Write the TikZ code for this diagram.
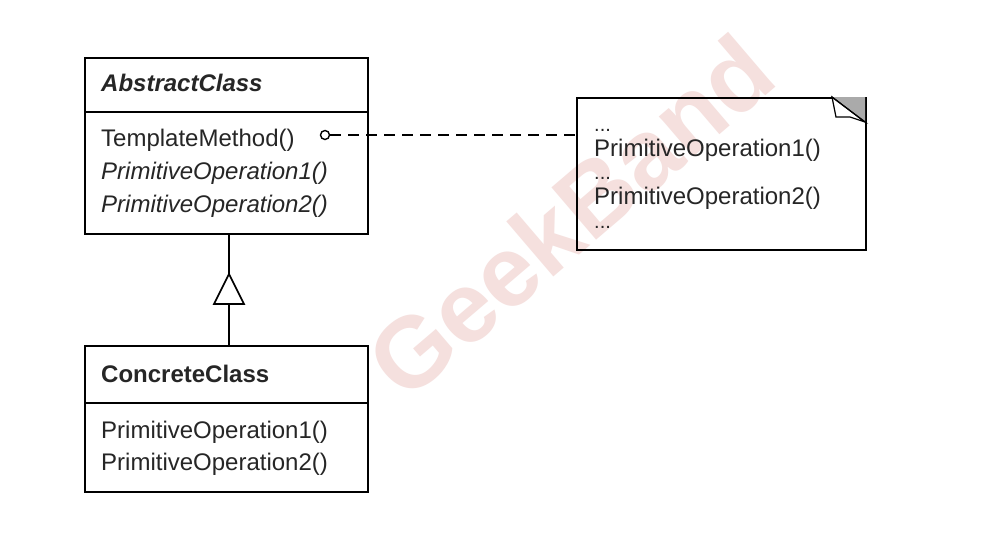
\documentclass[tikz,border=0pt]{standalone}
\usepackage{fontspec}
\setmainfont{Liberation Sans}
\definecolor{wm}{RGB}{245,224,222}
\definecolor{foldgray}{RGB}{170,170,170}
\begin{document}
\begin{tikzpicture}[x=1pt,y=-1pt,
  box/.style={draw=black,line width=1.6pt,rectangle,inner sep=0pt,anchor=north west},
  txt/.style={inner sep=0pt,anchor=base west,font=\fontsize{24}{24}\selectfont,text=black!85,text height=17pt,text depth=2pt},
  dots/.style={inner sep=0pt,anchor=base west,font=\fontsize{20}{20}\selectfont,text=black!85,text height=3pt,text depth=0pt},
  conn/.style={line width=1.6pt,draw=black}]
\useasboundingbox (0,0) rectangle (987,542);
\fill[white] (0,0) rectangle (987,542);
% watermark
\node[inner sep=0pt,rotate=40.5,text=wm,font=\fontsize{100}{100}\selectfont\bfseries] (wmark) at (570,216) {GeekBand};
% AbstractClass
\node[box,minimum width=283pt,minimum height=176pt] (abs) at (84,57) {};
\draw[conn] (84,112) -- (367,112);
\node[txt] (absname) at (101,91) {\bfseries\itshape AbstractClass};
\node[txt] (tm) at (101,146) {TemplateMethod()};
\node[txt] (apo1) at (101,179) {\itshape PrimitiveOperation1()};
\node[txt] (apo2) at (101,212) {\itshape PrimitiveOperation2()};
% ConcreteClass
\node[box,minimum width=283pt,minimum height=146pt] (con) at (84,345) {};
\draw[conn] (84,403) -- (367,403);
\node[txt] (conname) at (101,382) {\bfseries ConcreteClass};
\node[txt] (cpo1) at (101,438) {PrimitiveOperation1()};
\node[txt] (cpo2) at (101,470) {PrimitiveOperation2()};
% Note
\node[box,minimum width=289pt,minimum height=152pt] (note) at (576,97) {};
\fill[foldgray] (832,97) -- (865,97) -- (865,122) -- cycle;
\draw[line width=1.2pt,fill=white] (832,97) -- (836,117) -- (850,117) -- (865,122) -- cycle;
\draw[line width=1.2pt] (832,97) -- (865,122);
\node[dots] (d1) at (594,131) {...};
\node[txt] (npo1) at (594,156) {PrimitiveOperation1()};
\node[dots] (d2) at (594,179) {...};
\node[txt] (npo2) at (594,204) {PrimitiveOperation2()};
\node[dots] (d3) at (594,228) {...};
% dashed connector with circle
\node[circle,draw=black,line width=1.4pt,fill=white,inner sep=0pt,minimum size=9pt] (dot) at (325,135) {};
\draw[conn,dash pattern=on 11pt off 7pt] (dot.east) -- (note.west |- dot.east);
% inheritance
\coordinate (tip) at (229,274);
\coordinate (basec) at (229,304);
\draw[conn] (abs.south -| tip) -- (tip);
\draw[conn,fill=white,line join=miter] (tip) -- (214,304) -- (244,304) -- cycle;
\draw[conn] (basec) -- (con.north -| basec);
\end{tikzpicture}
\end{document}
